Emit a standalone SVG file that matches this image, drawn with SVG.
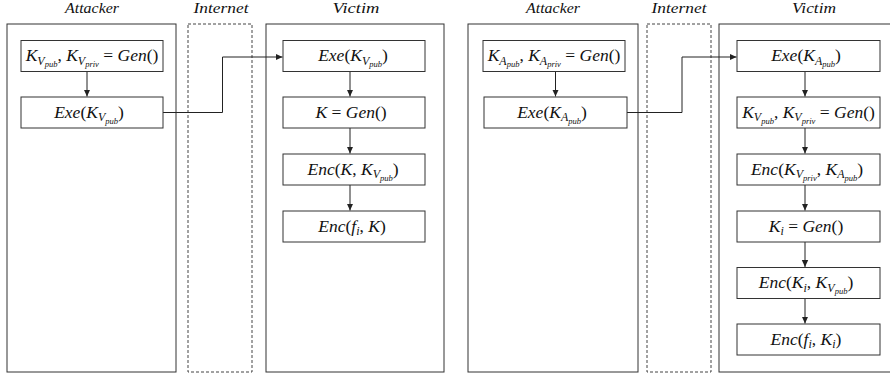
<svg xmlns="http://www.w3.org/2000/svg" width="890" height="377" viewBox="0 0 890 377">
<style>
.bg{fill:#ffffff}
.frame{fill:none;stroke:#333;stroke-width:1}
.net{fill:none;stroke:#444;stroke-width:1;stroke-dasharray:3 2}
.box{fill:#fff;stroke:#333;stroke-width:1}
.t{font-style:italic;font-size:14px;fill:#111;text-anchor:middle}
.m{font-size:17.5px;fill:#111;text-anchor:middle}
.i{font-style:italic}
.s{font-size:12px;font-style:italic}
.ss{font-size:8.5px;font-style:italic}
.c{fill:none;stroke:#222;stroke-width:1}
</style>
<defs>
<marker id="ah" markerUnits="userSpaceOnUse" markerWidth="8" markerHeight="8" viewBox="0 0 8 8" refX="7" refY="4" orient="auto">
<path d="M0,0.8 L7,4 L0,7.2 Z" fill="#222"/>
</marker>
</defs>
<rect class="bg" x="0" y="0" width="890" height="377"/>

<g id="titles" font-family="Liberation Serif, DejaVu Serif, serif">
<text class="t" x="92" y="13" textLength="54" lengthAdjust="spacingAndGlyphs">Attacker</text>
<text class="t" x="221" y="13" textLength="55" lengthAdjust="spacingAndGlyphs">Internet</text>
<text class="t" x="356" y="13" textLength="47" lengthAdjust="spacingAndGlyphs">Victim</text>
<text class="t" x="553" y="13" textLength="54" lengthAdjust="spacingAndGlyphs">Attacker</text>
<text class="t" x="679" y="13" textLength="55" lengthAdjust="spacingAndGlyphs">Internet</text>
<text class="t" x="814" y="13" textLength="44" lengthAdjust="spacingAndGlyphs">Victim</text>
</g>

<g id="lanes">
<rect id="lane-attacker-1" class="frame" x="7" y="24" width="169" height="348"/>
<rect id="lane-internet-1" class="net" x="188" y="24" width="64" height="348"/>
<rect id="lane-victim-1" class="frame" x="266" y="24" width="178" height="348"/>
<rect id="lane-attacker-2" class="frame" x="468" y="24" width="170" height="348"/>
<rect id="lane-internet-2" class="net" x="647" y="24" width="64" height="348"/>
<rect id="lane-victim-2" class="frame" x="719" y="24" width="190" height="348"/>
</g>

<g id="connectors">
<path class="c" d="M87,71.5 V96.5" marker-end="url(#ah)"/>
<path class="c" d="M163,112.5 H222.5 V57 H282.5" marker-end="url(#ah)"/>
<path class="c" d="M350,71.5 V96.5" marker-end="url(#ah)"/>
<path class="c" d="M350,128 V153.5" marker-end="url(#ah)"/>
<path class="c" d="M350,185 V210.5" marker-end="url(#ah)"/>
<path class="c" d="M555.5,71.5 V96.5" marker-end="url(#ah)"/>
<path class="c" d="M627,112.5 H682 V57 H736.5" marker-end="url(#ah)"/>
<path class="c" d="M805,71.5 V96.5" marker-end="url(#ah)"/>
<path class="c" d="M805,128 V153.5" marker-end="url(#ah)"/>
<path class="c" d="M805,185 V210.5" marker-end="url(#ah)"/>
<path class="c" d="M805,242 V267" marker-end="url(#ah)"/>
<path class="c" d="M805,298.5 V323.5" marker-end="url(#ah)"/>
</g>

<g id="nodes" font-family="Liberation Serif, DejaVu Serif, serif">
<g id="a1-gen">
<rect class="box" x="21" y="40.5" width="142" height="31"/>
<text class="m" x="92" y="61"><tspan class="i">K</tspan><tspan class="s" dy="3.5">V</tspan><tspan class="ss" dy="2.5">pub</tspan><tspan dy="-6">, </tspan><tspan class="i">K</tspan><tspan class="s" dy="3.5">V</tspan><tspan class="ss" dy="2.5">priv</tspan><tspan dy="-6"> = </tspan><tspan class="i">Gen</tspan>()</text>
</g>
<g id="a1-exe">
<rect class="box" x="21" y="97" width="142" height="31"/>
<text class="m" x="89" y="117.5"><tspan class="i">Exe</tspan>(<tspan class="i">K</tspan><tspan class="s" dy="3.5">V</tspan><tspan class="ss" dy="2.5">pub</tspan><tspan dy="-6">)</tspan></text>
</g>
<g id="v1-exe">
<rect class="box" x="283" y="40.5" width="142" height="31"/>
<text class="m" x="353" y="61"><tspan class="i">Exe</tspan>(<tspan class="i">K</tspan><tspan class="s" dy="3.5">V</tspan><tspan class="ss" dy="2.5">pub</tspan><tspan dy="-6">)</tspan></text>
</g>
<g id="v1-gen">
<rect class="box" x="283" y="97" width="142" height="31"/>
<text class="m" x="351" y="117.5"><tspan class="i">K</tspan> = <tspan class="i">Gen</tspan>()</text>
</g>
<g id="v1-enck">
<rect class="box" x="283" y="154" width="142" height="31"/>
<text class="m" x="353" y="174.5"><tspan class="i">Enc</tspan>(<tspan class="i">K</tspan>, <tspan class="i">K</tspan><tspan class="s" dy="3.5">V</tspan><tspan class="ss" dy="2.5">pub</tspan><tspan dy="-6">)</tspan></text>
</g>
<g id="v1-encf">
<rect class="box" x="283" y="211" width="142" height="31"/>
<text class="m" x="352" y="231.5"><tspan class="i">Enc</tspan>(<tspan class="i">f</tspan><tspan class="s" dy="3.5">i</tspan><tspan dy="-3.5">, </tspan><tspan class="i">K</tspan>)</text>
</g>

<g id="a2-gen">
<rect class="box" x="483" y="40.5" width="142" height="31"/>
<text class="m" x="554" y="61"><tspan class="i">K</tspan><tspan class="s" dy="3.5">A</tspan><tspan class="ss" dy="2.5">pub</tspan><tspan dy="-6">, </tspan><tspan class="i">K</tspan><tspan class="s" dy="3.5">A</tspan><tspan class="ss" dy="2.5">priv</tspan><tspan dy="-6"> = </tspan><tspan class="i">Gen</tspan>()</text>
</g>
<g id="a2-exe">
<rect class="box" x="484" y="97" width="143" height="31"/>
<text class="m" x="552" y="117.5"><tspan class="i">Exe</tspan>(<tspan class="i">K</tspan><tspan class="s" dy="3.5">A</tspan><tspan class="ss" dy="2.5">pub</tspan><tspan dy="-6">)</tspan></text>
</g>
<g id="v2-exe">
<rect class="box" x="737" y="40.5" width="143" height="31"/>
<text class="m" x="806" y="61"><tspan class="i">Exe</tspan>(<tspan class="i">K</tspan><tspan class="s" dy="3.5">A</tspan><tspan class="ss" dy="2.5">pub</tspan><tspan dy="-6">)</tspan></text>
</g>
<g id="v2-gen">
<rect class="box" x="737" y="97" width="143" height="31"/>
<text class="m" x="808.5" y="117.5"><tspan class="i">K</tspan><tspan class="s" dy="3.5">V</tspan><tspan class="ss" dy="2.5">pub</tspan><tspan dy="-6">, </tspan><tspan class="i">K</tspan><tspan class="s" dy="3.5">V</tspan><tspan class="ss" dy="2.5">priv</tspan><tspan dy="-6"> = </tspan><tspan class="i">Gen</tspan>()</text>
</g>
<g id="v2-encpriv">
<rect class="box" x="737" y="154" width="143" height="31"/>
<text class="m" x="807" y="174.5"><tspan class="i">Enc</tspan>(<tspan class="i">K</tspan><tspan class="s" dy="3.5">V</tspan><tspan class="ss" dy="2.5">priv</tspan><tspan dy="-6">, </tspan><tspan class="i">K</tspan><tspan class="s" dy="3.5">A</tspan><tspan class="ss" dy="2.5">pub</tspan><tspan dy="-6">)</tspan></text>
</g>
<g id="v2-genki">
<rect class="box" x="737" y="211" width="143" height="31"/>
<text class="m" x="806" y="231.5"><tspan class="i">K</tspan><tspan class="s" dy="3.5">i</tspan><tspan dy="-3.5"> = </tspan><tspan class="i">Gen</tspan>()</text>
</g>
<g id="v2-encki">
<rect class="box" x="737" y="267.5" width="143" height="31"/>
<text class="m" x="806" y="288"><tspan class="i">Enc</tspan>(<tspan class="i">K</tspan><tspan class="s" dy="3.5">i</tspan><tspan dy="-3.5">, </tspan><tspan class="i">K</tspan><tspan class="s" dy="3.5">V</tspan><tspan class="ss" dy="2.5">pub</tspan><tspan dy="-6">)</tspan></text>
</g>
<g id="v2-encf">
<rect class="box" x="737" y="324" width="143" height="31"/>
<text class="m" x="806" y="344.5"><tspan class="i">Enc</tspan>(<tspan class="i">f</tspan><tspan class="s" dy="3.5">i</tspan><tspan dy="-3.5">, </tspan><tspan class="i">K</tspan><tspan class="s" dy="3.5">i</tspan><tspan dy="-3.5">)</tspan></text>
</g>
</g>
</svg>
